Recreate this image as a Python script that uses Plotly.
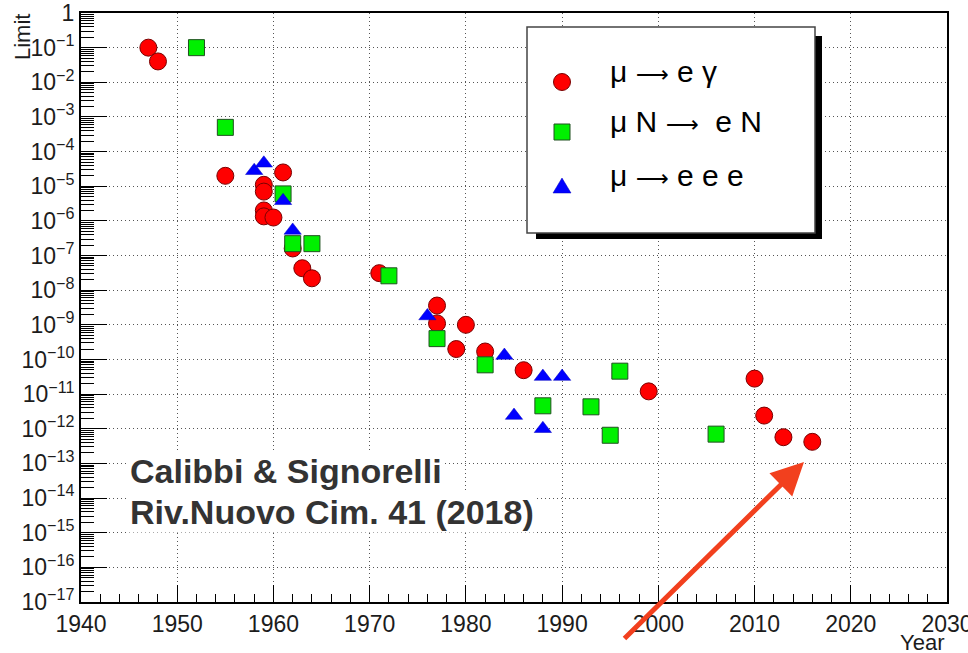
import plotly.graph_objects as go

# ---- data: upper limits on charged-lepton-flavour-violating muon decays ----
# mu -> e gamma
meg_year = [1947, 1948, 1955, 1959, 1959, 1961, 1959, 1959, 1960, 1962, 1963, 1964,
            1971, 1977, 1977, 1979, 1980, 1982, 1986, 1999, 2010, 2011, 2013, 2016]
meg_limit = [1e-1, 4e-2, 2e-5, 1.1e-5, 7e-6, 2.5e-5, 2.0e-6, 1.35e-6, 1.25e-6, 1.6e-7, 4.3e-8, 2.2e-8,
             3.1e-8, 3.6e-9, 1.1e-9, 2e-10, 1e-9, 1.7e-10, 4.9e-11, 1.2e-11, 2.8e-11, 2.4e-12, 5.7e-13, 4.2e-13]

# mu N -> e N
mec_year = [1952, 1955, 1961, 1962, 1964, 1972, 1977, 1982, 1988, 1993, 1995, 1996, 2006]
mec_limit = [1e-1, 5e-4, 6e-6, 2.2e-7, 2.2e-7, 2.6e-8, 4e-10, 7e-11, 4.6e-12, 4.3e-12, 6.5e-13, 4.6e-11, 7e-13]

# mu -> e e e
m3e_year = [1958, 1959, 1961, 1962, 1976, 1984, 1985, 1988, 1988, 1990]
m3e_limit = [2.8e-5, 4.6e-5, 3.8e-6, 5.3e-7, 1.8e-9, 1.3e-10, 2.4e-12, 3.2e-11, 1e-12, 3.2e-11]

x_tick_vals = [1940, 1950, 1960, 1970, 1980, 1990, 2000, 2010, 2020, 2030]
y_exponents = list(range(0, -18, -1))
y_tick_vals = [10.0 ** e for e in y_exponents]
y_tick_text = ["1"] + ["10<sup>\u2212%d</sup>" % (-e) for e in y_exponents[1:]]
y_minor_vals = [m * 10.0 ** e for e in range(-17, 0) for m in range(2, 10)]

ARROW = "<span style='font-family:DejaVu Sans;font-size:23px'>\u27f6</span>"
legend_labels = ["\u03bc " + ARROW + " e \u03b3",
                 "\u03bc N " + ARROW + "  e N",
                 "\u03bc " + ARROW + " e e e"]
credit_lines = ["Calibbi & Signorelli", "Riv.Nuovo Cim. 41 (2018)"]

# ---- page geometry ----
W, H = 968, 653
L, R, T, B = 81, 21, 13, 51
PW, PH = W - L - R, H - T - B
FONT = "Liberation Sans, Arial, Helvetica, sans-serif"
INK = "#1c1c1c"


def px(xp):
    return (xp - L) / PW


def py(yp):
    return (H - B - yp) / PH


fig = go.Figure()

fig.add_trace(go.Scatter(
    x=meg_year, y=meg_limit, mode="markers", name="mu -> e gamma",
    marker=dict(symbol="circle", size=17, color="#ff0000",
                line=dict(color="#7a0000", width=1))))
fig.add_trace(go.Scatter(
    x=mec_year, y=mec_limit, mode="markers", name="mu N -> e N",
    marker=dict(symbol="square", size=16, color="#00f000",
                line=dict(color="#205020", width=1))))
fig.add_trace(go.Scatter(
    x=m3e_year, y=m3e_limit, mode="markers", name="mu -> e e e",
    marker=dict(symbol="triangle-up", size=15, color="#0000ff",
                line=dict(color="#0000c0", width=0.5))))

grid = dict(showgrid=True, gridcolor="#555555", gridwidth=1, griddash="1px,3px")

fig.update_xaxes(
    range=[1940, 2030], tickmode="array", tickvals=x_tick_vals,
    ticks="inside", ticklen=17, tickwidth=1, tickcolor="black",
    minor=dict(ticks="inside", ticklen=8, dtick=2, tickcolor="black", showgrid=False),
    showline=True, linecolor="black", linewidth=2, mirror=True,
    tickfont=dict(family=FONT, size=23, color=INK),
    automargin=False, ticklabeloverflow="allow",
    zeroline=False, **grid)

fig.update_yaxes(
    type="log", range=[-17, 0], tickmode="array", tickvals=y_tick_vals, ticktext=y_tick_text,
    ticks="inside", ticklen=26, tickwidth=1, tickcolor="black",
    minor=dict(ticks="inside", ticklen=13, tickmode="array", tickvals=y_minor_vals,
               tickcolor="black", showgrid=False),
    showline=True, linecolor="black", linewidth=2, mirror=True,
    tickfont=dict(family=FONT, size=23, color=INK),
    automargin=False, ticklabeloverflow="allow",
    zeroline=False, **grid)

# legend box with drop shadow
shapes = [
    dict(type="rect", xref="paper", yref="paper", layer="above",
         x0=px(536), x1=px(822), y0=py(239), y1=py(36),
         fillcolor="black", line=dict(width=0)),
    dict(type="rect", xref="paper", yref="paper", layer="above",
         x0=px(527), x1=px(815), y0=py(233), y1=py(27),
         fillcolor="white", line=dict(color="#444444", width=1.5)),
    dict(type="circle", xref="paper", yref="paper", layer="above",
         x0=px(553.5), x1=px(570.5), y0=py(90.5), y1=py(73.5),
         fillcolor="#ff0000", line=dict(color="#7a0000", width=1)),
    dict(type="rect", xref="paper", yref="paper", layer="above",
         x0=px(554), x1=px(570), y0=py(140), y1=py(124),
         fillcolor="#00f000", line=dict(color="#205020", width=1)),
    dict(type="path", xref="paper", yref="paper", layer="above",
         path="M %f,%f L %f,%f L %f,%f Z" % (px(553), py(193), px(571), py(193), px(562), py(178)),
         fillcolor="#0000ff", line=dict(color="#0000c0", width=0.5)),
]
fig.update_layout(shapes=shapes)

annotations = []
for label, yc in zip(legend_labels, [72, 122, 176]):
    annotations.append(dict(
        text=label, xref="paper", yref="paper", x=px(608), y=py(yc),
        xanchor="left", yanchor="middle", showarrow=False,
        font=dict(family=FONT, size=30, color="black")))

for line, yc in zip(credit_lines, [471, 512]):
    annotations.append(dict(
        text="<b>%s</b>" % line, xref="paper", yref="paper", x=px(128), y=py(yc),
        xanchor="left", yanchor="middle", showarrow=False, bgcolor="white", borderpad=1,
        font=dict(family=FONT, size=34, color="#333333")))

# axis titles sit at the far ends of the axes
annotations.append(dict(
    text="Limit", xref="paper", yref="paper", x=px(22), y=py(12), textangle=-90,
    xanchor="center", yanchor="top", showarrow=False,
    font=dict(family=FONT, size=22, color=INK)))
annotations.append(dict(
    text="Year", xref="paper", yref="paper", x=px(946), y=py(642),
    xanchor="right", yanchor="middle", showarrow=False,
    font=dict(family=FONT, size=22, color=INK)))

# highlight arrow pointing at the most recent result
annotations.append(dict(
    text="", xref="paper", yref="paper", x=px(804), y=py(462),
    axref="pixel", ayref="pixel", ax=623 - 804, ay=640 - 462,
    showarrow=True, arrowhead=2, arrowsize=1.3, arrowwidth=5, arrowcolor="#f2401e",
    standoff=0))

fig.update_layout(
    annotations=annotations,
    width=W, height=H,
    margin=dict(l=L, r=R, t=T, b=B),
    paper_bgcolor="white", plot_bgcolor="white",
    showlegend=False,
    font=dict(family=FONT),
)

fig.write_html("out.html")
